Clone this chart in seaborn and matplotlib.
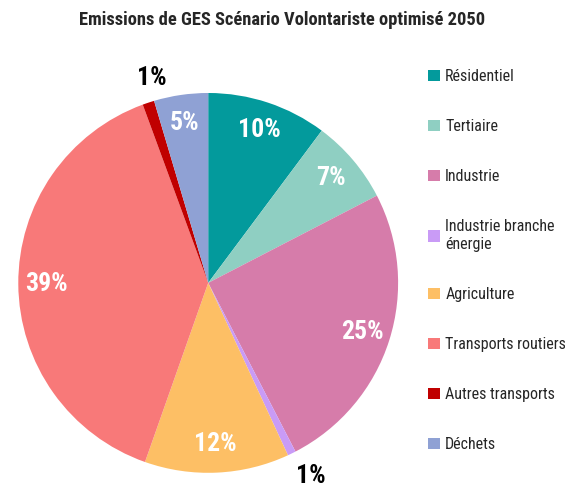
import numpy as np
import seaborn as sns
import matplotlib
matplotlib.use("Agg")
import matplotlib.pyplot as plt

# data (% of 2050 GHG emissions)
secteurs = ["Résidentiel", "Tertiaire", "Industrie", "Industrie branche\nénergie",
            "Agriculture", "Transports routiers", "Autres transports", "Déchets"]
parts = [10.2, 7.2, 25.0, 0.7, 12.3, 39.0, 1.0, 4.6]
couleurs = ["#039A9C", "#8FCFC2", "#D67CAA", "#C99BF6",
            "#FDBF65", "#F87979", "#C00000", "#8FA1D4"]

sns.set_theme(style="white")
plt.rcParams['font.family'] = ['Roboto Condensed', 'DejaVu Sans']

fig = plt.figure(figsize=(5.65, 4.92), dpi=100)
ax = fig.add_axes([0.032, 0.039, 0.673, 0.772])

wedges, texts, autotexts = ax.pie(parts, colors=sns.color_palette(couleurs),
                                  startangle=90, counterclock=False,
                                  autopct="%.0f%%", pctdistance=0.85,
                                  wedgeprops=dict(linewidth=0),
                                  textprops=dict(color="white", fontsize=18.5, fontweight="bold"))
ax.set_xlim(-1, 1)
ax.set_ylim(-1, 1)
ax.set_aspect("equal")

# small slices: label outside in black
for w, t, p in zip(wedges, autotexts, parts):
    if p < 2:
        ang = np.deg2rad((w.theta1 + w.theta2) / 2)
        if np.sin(ang) > 0:
            r, ang = 1.12, ang - np.deg2rad(3)   # top one, a bit toward 12 o'clock
        else:
            r, ang = 1.15, ang + np.deg2rad(2)
        t.set_position((r * np.cos(ang), r * np.sin(ang)))
        t.set_color("black")

fig.text(0.5, 0.959, "Emissions de GES Scénario Volontariste optimisé 2050",
         ha="center", va="center", fontsize=13.3, fontweight="bold")

leg = fig.legend(wedges, secteurs, loc="upper left", bbox_to_anchor=(0.744, 0.876),
                 frameon=False, fontsize=11.5, labelspacing=2.2,
                 handlelength=0.7, handleheight=0.7, handletextpad=0.35, borderpad=0)

fig.savefig("out.png", dpi=100)
